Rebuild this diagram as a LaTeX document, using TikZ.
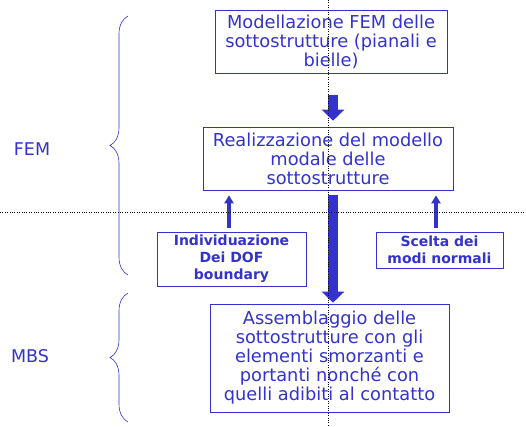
\documentclass[tikz,border=0pt]{standalone}
\usepackage{fontspec}
\setmainfont{DejaVu Sans}
\usepackage{tikz}
\usetikzlibrary{arrows.meta,decorations.pathreplacing}
\definecolor{schemablue}{RGB}{51,51,204}
\tikzset{
  bigbox/.style={draw=schemablue,semithick,text=schemablue,align=center,inner sep=0pt,
    font=\fontsize{17.8}{19}\selectfont},
  smallbox/.style={draw=schemablue,semithick,text=schemablue,align=center,inner sep=0pt,
    font=\fontsize{14}{17}\selectfont\bfseries},
  fatarrow/.style={schemablue,line width=10pt,-{Triangle[width=22pt,length=11pt]}},
  thinarrow/.style={schemablue,line width=4pt,-{Triangle[width=9pt,length=8pt]}},
  bracket/.style={schemablue,semithick,decorate,decoration={brace,amplitude=18pt}},
  sidelabel/.style={text=schemablue,font=\fontsize{17.5}{19}\selectfont}
}
\begin{document}
\begin{tikzpicture}[x=1pt,y=-1pt]
			\useasboundingbox (0,0) rectangle (526,427);
			
			% Boxes
			\node[bigbox,minimum width=232pt,minimum height=63pt] (fem) at (331,41.5)
				{Modellazione FEM delle\\sottostrutture (pianali e\\bielle)};
			\node[bigbox,minimum width=250pt,minimum height=63pt] (modal) at (328,158.5)
				{Realizzazione del modello\\modale delle\\sottostrutture};
			\node[smallbox,minimum width=149pt,minimum height=54pt] (dof) at (231.5,259)
				{Individuazione\\Dei DOF\\boundary};
			\node[smallbox,minimum width=127pt,minimum height=36pt] (modes) at (439.5,250)
				{Scelta dei\\modi normali};
			\node[bigbox,minimum width=239pt,minimum height=108pt] (mbs) at (329.5,358)
				{Assemblaggio delle\\sottostrutture con gli\\elementi smorzanti e\\portanti nonché con\\quelli adibiti al contatto};
			
			% Arrows
			\coordinate (axis) at (333,0);
			\draw[fatarrow,shorten <=22pt,shorten >=6pt] (fem.south -| axis) -- (modal.north -| axis);
			\draw[fatarrow,shorten <=5pt,shorten >=1pt] (modal.south -| axis) -- (mbs.north -| axis);
			\coordinate (leftup) at (229,0);
			\coordinate (rightup) at (436,0);
			\draw[thinarrow,shorten <=4pt,shorten >=5pt] (dof.north -| leftup) -- (modal.south -| leftup);
			\draw[thinarrow,shorten <=4pt,shorten >=5pt] (modes.north -| rightup) -- (modal.south -| rightup);
			
			% Braces
			\draw[bracket] (128,275) -- (128,16);
			\draw[bracket] (128,422) -- (128,293);
			\node[sidelabel] (femlabel) at (32,149) {FEM};
			\node[sidelabel] (mbslabel) at (30,356) {MBS};
			
			% Dotted separators
			\draw[dotted] (0,212) -- (526,212);
			\draw[dotted] (328,0) -- (328,427);
		\end{tikzpicture}
\end{document}
